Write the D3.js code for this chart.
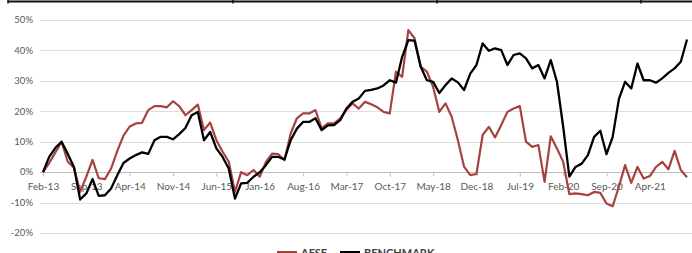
<!DOCTYPE html>
<html>
<head>
<meta charset="utf-8">
<script src="https://cdn.jsdelivr.net/npm/d3@7"></script>
<style>
  body { margin: 0; background: #fff; }
  #wrapper { width: 692px; height: 253px; overflow: hidden; }
  .grid line { stroke: #dedede; stroke-width: 1; }
  .label { font-family: Lato, "Open Sans", sans-serif; fill: #595959; }
</style>
</head>
<body>
<div id="wrapper"></div>
<script>
const tickLabels = ["Feb-13", "Sep-13", "Apr-14", "Nov-14", "Jun-15", "Jan-16", "Aug-16", "Mar-17",
  "Oct-17", "May-18", "Dec-18", "Jul-19", "Feb-20", "Sep-20", "Apr-21"]
const yTicks = [-20, -10, 0, 10, 20, 30, 40, 50]
const seriesNames = ["AFSE", "BENCHMARK"]

const afse = [0, 3, 6.5, 10, 3.4, 1.5, -6.5, -1.5, 4, -2,
  -2.3, 1.2, 7, 12, 15, 16, 16.2, 20.4, 21.7, 21.7,
  21.3, 23.3, 21.7, 18.7, 20.4, 22.2, 13.8, 16.3, 10.5, 6.7,
  3.4, -6.5, 0, -1, 0.7, -1.5, 3.4, 6.1, 5.9, 3.9,
  12.7, 17.7, 19.3, 19.3, 20.4, 14.4, 16, 16, 17.7, 20.4,
  22.6, 20.9, 23.1, 22.3, 21.3, 19.8, 19.3, 33, 31.3, 46.7,
  44, 34.6, 33, 28, 19.8, 22.6, 18.2, 10.5, 1.8, -1,
  -0.6, 12.2, 14.9, 11.4, 15.5, 19.8, 20.9, 21.7, 10, 8.3,
  8.9, -3.2, 11.8, 7.8, 3.4, -7.2, -7, -7.2, -7.6, -6.5,
  -6.8, -10.3, -11.2, -4.8, 2.3, -3.5, 1.7, -2.1, -1.3, 1.7,
  3.4, 0.9, 7, 0.7, -1.7]

const benchmark = [0, 5, 8, 10, 6, 1.7, -9, -7, -2.3, -7.8,
  -7.6, -5.4, -1, 3, 4.5, 5.6, 6.5, 6, 10.5, 11.6,
  11.6, 10.8, 12.5, 14.5, 18.7, 19.8, 10.5, 13.2, 7.8, 5,
  1.2, -8.7, -3.7, -3.5, -1.5, 0, 2.3, 5, 5, 4.2,
  10.5, 14.3, 16.5, 16.5, 17.7, 13.8, 15.4, 15.5, 17.1, 20.9,
  23.1, 24.2, 26.7, 27, 27.5, 28.5, 30.2, 29.4, 37.9, 43.4,
  43.2, 34.6, 30.2, 29.7, 26, 28.6, 30.8, 29.5, 27, 32.4,
  35.2, 42.3, 39.9, 40.7, 40.1, 35.2, 38.5, 39, 37.4, 34.1,
  35.2, 30.8, 36.8, 29.7, 15, -1.5, 1.7, 2.8, 5.6, 11.6,
  13.6, 5.9, 11.6, 24, 29.7, 27.5, 35.7, 30.2, 30.2, 29.4,
  30.8, 32.6, 34.1, 36.3, 43.6]

function drawChart() {
  // monthly categories, Feb-13 onwards
  const fmt = d3.timeFormat("%b-%y")
  const months = d3.timeMonth.range(new Date(2013, 1, 1), new Date(2013, 1 + afse.length, 1)).map(fmt)

  let dimensions = {
    width: 692,
    height: 253,
    plotLeft: 43,
    plotRight: 687,
    gridLeft: 40,
    gridRight: 692,
    top: 20,
    bottom: 233
  }

  const xScale = d3.scalePoint()
    .domain(months)
    .range([dimensions.plotLeft, dimensions.plotRight])

  const yScale = d3.scaleLinear()
    .domain([-20, 50])
    .range([dimensions.bottom, dimensions.top])

  const wrapper = d3.select("#wrapper")
    .append("svg")
      .attr("width", dimensions.width)
      .attr("height", dimensions.height)

  // frame line across the top, left over from the table above
  const frame = wrapper.append("g")
  frame.append("line")
    .attr("x1", 8).attr("x2", 692).attr("y1", 1.5).attr("y2", 1.5)
    .attr("stroke", "#111").attr("stroke-width", 2)
  frame.selectAll(".sep")
    .data([8, 233, 437, 641])
    .enter().append("line")
      .attr("x1", d => d).attr("x2", d => d)
      .attr("y1", 0).attr("y2", 3.5)
      .attr("stroke", "#111").attr("stroke-width", 1.5)

  // gridlines
  wrapper.append("g")
    .attr("class", "grid")
    .selectAll("line")
    .data(yTicks)
    .enter().append("line")
      .attr("x1", dimensions.gridLeft)
      .attr("x2", dimensions.gridRight)
      .attr("y1", d => Math.round(yScale(d)) + 0.5)
      .attr("y2", d => Math.round(yScale(d)) + 0.5)

  // y labels
  wrapper.append("g")
    .selectAll("text")
    .data(yTicks)
    .enter().append("text")
      .attr("class", "label")
      .attr("x", 33)
      .attr("y", d => yScale(d))
      .attr("dy", "0.35em")
      .attr("text-anchor", "end")
      .style("font-size", "9.5px")
      .text(d => d + "%")

  // x axis on the zero line
  const xAxis = d3.axisBottom(xScale)
    .tickValues(tickLabels)
    .tickSize(4)
    .tickPadding(6)

  const xAxisGroup = wrapper.append("g")
    .attr("transform", `translate(0, ${Math.round(yScale(0)) + 0.5})`)
    .call(xAxis)
  xAxisGroup.select(".domain")
    .attr("d", `M${dimensions.gridLeft},0H${dimensions.gridRight}`)
    .attr("stroke", "#bfbfbf")
  xAxisGroup.selectAll(".tick line").attr("stroke", "#bfbfbf")
  xAxisGroup.selectAll(".tick text")
    .attr("class", "label")
    .style("font-size", "10px")

  // lines
  const lineGen = values => d3.line()
    .x((d, i) => xScale(months[i]))
    .y(d => yScale(d))(values)

  const colors = ["#a6423f", "#000000"]
  const series = [afse, benchmark]

  wrapper.append("g")
    .selectAll("path")
    .data(series)
    .enter().append("path")
      .attr("d", d => lineGen(d))
      .attr("fill", "none")
      .attr("stroke", (d, i) => colors[i])
      .attr("stroke-width", (d, i) => i ? 2.3 : 2.2)
      .attr("stroke-linejoin", "round")

  // legend, cut by the bottom edge like the reference
  const legendItems = [
    {x1: 277, x2: 297, tx: 301},
    {x1: 340, x2: 360, tx: 364}
  ]
  const legend = wrapper.append("g")
  legend.selectAll("line")
    .data(seriesNames)
    .enter().append("line")
      .attr("x1", (d, i) => legendItems[i].x1)
      .attr("x2", (d, i) => legendItems[i].x2)
      .attr("y1", 252).attr("y2", 252)
      .attr("stroke", (d, i) => colors[i])
      .attr("stroke-width", 2)
  legend.selectAll("text")
    .data(seriesNames)
    .enter().append("text")
      .attr("class", "label")
      .attr("x", (d, i) => legendItems[i].tx)
      .attr("y", 257)
      .style("font-size", "11px")
      .style("font-weight", "bold")
      .style("fill", "#404040")
      .text(d => d)
}

drawChart()
</script>
</body>
</html>
